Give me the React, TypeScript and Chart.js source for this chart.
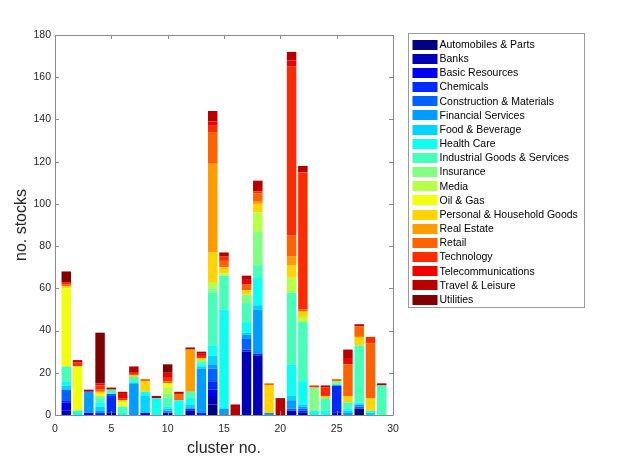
import React, { useEffect, useRef } from "react";
import { Chart, registerables } from "chart.js";

Chart.register(...registerables);

const clusters = [1, 2, 3, 4, 5, 6, 7, 8, 9, 10, 11, 12, 13, 14, 15, 16, 17, 18, 19, 20, 21, 22, 23, 24, 25, 26, 27, 28, 29];

const sectors = [
  "Automobiles & Parts",
  "Banks",
  "Basic Resources",
  "Chemicals",
  "Construction & Materials",
  "Financial Services",
  "Food & Beverage",
  "Health Care",
  "Industrial Goods & Services",
  "Insurance",
  "Media",
  "Oil & Gas",
  "Personal & Household Goods",
  "Real Estate",
  "Retail",
  "Technology",
  "Telecommunications",
  "Travel & Leisure",
  "Utilities",
];

const sectorColors = [
  "#000080", "#0000B8", "#0000F1", "#002BFF", "#0063FF", "#009CFF", "#00D4FF",
  "#0EFFF1", "#47FFB8", "#80FF80", "#B8FF47", "#F1FF0E", "#FFD400", "#FF9C00",
  "#FF6300", "#FF2B00", "#F10000", "#B80000", "#800000",
];

// stock counts per cluster (clusters 1..29)
const automobiles = [0, 0, 0, 0, 1, 0, 0, 0, 0, 0, 0, 0, 0, 5, 0, 0, 0, 0, 0, 0, 0, 0, 0, 0, 0, 0, 3, 0, 0];
const banks = [2, 0, 0, 0, 0, 0, 0, 0, 0, 1, 0, 2, 0, 4, 0, 0, 30, 28, 0, 0, 2, 1, 0, 0, 1, 0, 0, 0, 0];
const basicResources = [4, 0, 1, 0, 0, 0, 0, 1, 0, 0, 0, 0, 0, 3, 0, 0, 0, 0, 0, 0, 0, 0, 0, 0, 0, 0, 0, 0, 0];
const chemicals = [1, 0, 0, 1, 8, 0, 0, 0, 0, 0, 0, 1, 1, 4, 0, 0, 1, 1, 0, 0, 0, 1, 0, 0, 13, 0, 0, 0, 0];
const construction = [5, 0, 0, 0, 1, 0, 0, 0, 0, 0, 0, 0, 0, 6, 0, 0, 5, 0, 0, 0, 1, 1, 0, 0, 0, 0, 1, 0, 0];
const financial = [0, 0, 10, 1, 0, 0, 15, 0, 0, 1, 0, 0, 21, 2, 3, 0, 2, 21, 1, 0, 4, 1, 0, 0, 0, 1, 1, 0, 0];
const food = [2, 0, 0, 2, 0, 0, 0, 8, 0, 1, 0, 2, 1, 4, 0, 0, 1, 2, 0, 0, 2, 1, 0, 0, 0, 1, 0, 1, 0];
const health = [2, 2, 0, 2, 0, 1, 1, 2, 8, 1, 7, 3, 1, 5, 47, 0, 5, 13, 0, 0, 15, 11, 2, 2, 0, 1, 1, 1, 0];
const industrial = [7, 0, 0, 2, 2, 3, 2, 0, 0, 4, 0, 3, 1, 25, 16, 0, 9, 6, 0, 0, 34, 28, 0, 6, 1, 3, 27, 0, 14];
const insurance = [0, 0, 0, 1, 0, 0, 0, 0, 0, 2, 0, 0, 1, 2, 0, 0, 4, 16, 0, 0, 0, 0, 11, 0, 1, 0, 0, 0, 0];
const media = [0, 0, 0, 0, 0, 0, 0, 0, 0, 3, 0, 0, 0, 3, 1, 0, 0, 9, 0, 0, 7, 2, 0, 0, 0, 0, 0, 0, 0];
const oilGas = [37, 21, 0, 1, 0, 2, 0, 0, 0, 2, 0, 0, 0, 0, 0, 0, 0, 0, 0, 0, 0, 0, 0, 0, 0, 0, 0, 0, 0];
const personal = [1, 0, 0, 1, 0, 1, 1, 5, 0, 0, 0, 0, 1, 14, 3, 0, 2, 4, 13, 0, 6, 3, 0, 1, 0, 3, 4, 6, 0];
const realEstate = [0, 0, 0, 0, 0, 0, 0, 0, 0, 0, 0, 20, 0, 42, 0, 0, 0, 1, 0, 0, 4, 0, 0, 0, 0, 0, 0, 0, 0];
const retail = [1, 0, 0, 1, 0, 0, 0, 1, 0, 1, 3, 0, 0, 15, 3, 0, 3, 4, 1, 0, 10, 1, 0, 0, 1, 15, 5, 26, 0];
const technology = [1, 2, 0, 2, 0, 1, 1, 0, 0, 2, 0, 0, 1, 3, 2, 0, 0, 1, 0, 0, 80, 65, 1, 4, 0, 0, 0, 3, 0];
const telecom = [0, 0, 0, 1, 0, 2, 0, 0, 0, 2, 0, 0, 1, 2, 0, 0, 2, 0, 0, 0, 3, 0, 0, 0, 0, 3, 0, 0, 0];
const travel = [0, 1, 1, 0, 1, 1, 3, 0, 1, 0, 1, 1, 1, 5, 2, 5, 2, 5, 0, 8, 4, 3, 0, 1, 0, 4, 1, 0, 1];
const utilities = [5, 0, 0, 24, 0, 0, 0, 0, 0, 4, 0, 0, 0, 0, 0, 0, 0, 0, 0, 0, 0, 0, 0, 0, 0, 0, 0, 0, 0];

const sectorValues = [
  automobiles, banks, basicResources, chemicals, construction, financial, food,
  health, industrial, insurance, media, oilGas, personal, realEstate, retail,
  technology, telecom, travel, utilities,
];

const xTicks = [0, 5, 10, 15, 20, 25, 30];
const yTicks = [0, 20, 40, 60, 80, 100, 120, 140, 160, 180];

const FONT = "'Liberation Sans', Arial, Helvetica, sans-serif";
const AXIS_COLOR = "#8a8a8a";
const TEXT_COLOR = "#262626";

const boxPlugin = {
  id: "matlabBox",
  afterDatasetsDraw(chart: any) {
    const { ctx, chartArea, scales } = chart;
    const { left, right, top, bottom } = chartArea;
    ctx.save();
    ctx.strokeStyle = AXIS_COLOR;
    ctx.lineWidth = 1;
    ctx.beginPath();
    ctx.rect(Math.round(left) + 0.5, Math.round(top) + 0.5, Math.round(right - left), Math.round(bottom - top));
    ctx.stroke();
    const tl = 4;
    ctx.beginPath();
    xTicks.forEach((v) => {
      const px = Math.round(scales.x.getPixelForValue(v)) + 0.5;
      ctx.moveTo(px, bottom);
      ctx.lineTo(px, bottom - tl);
      ctx.moveTo(px, top);
      ctx.lineTo(px, top + tl);
    });
    yTicks.forEach((v) => {
      const py = Math.round(scales.y.getPixelForValue(v)) + 0.5;
      ctx.moveTo(left, py);
      ctx.lineTo(left + tl, py);
      ctx.moveTo(right, py);
      ctx.lineTo(right - tl, py);
    });
    ctx.stroke();
    ctx.restore();
  },
  afterDraw(chart: any) {
    const { ctx, chartArea } = chart;
    const x0 = Math.round(chartArea.right + 15) + 0.5;
    const y0 = Math.round(chartArea.top - 2) + 0.5;
    const rowH = 14.17;
    ctx.save();
    ctx.font = `10.5px ${FONT}`;
    let maxW = 0;
    chart.data.datasets.forEach((ds: any) => {
      maxW = Math.max(maxW, ctx.measureText(ds.label).width);
    });
    const w = Math.round(31 + maxW + 7);
    const h = Math.round(11 + rowH * (chart.data.datasets.length - 1) + 8);
    ctx.fillStyle = "#ffffff";
    ctx.fillRect(x0, y0, w, h);
    ctx.strokeStyle = "#9a9a9a";
    ctx.lineWidth = 1;
    ctx.strokeRect(x0, y0, w, h);
    ctx.textBaseline = "middle";
    ctx.textAlign = "left";
    chart.data.datasets.forEach((ds: any, i: number) => {
      const cy = y0 + 11 + i * rowH;
      ctx.fillStyle = ds.backgroundColor;
      ctx.fillRect(x0 + 4, Math.round(cy - 5), 25, 10);
      ctx.fillStyle = "#000000";
      ctx.fillText(ds.label, x0 + 31, cy + 0.5);
    });
    ctx.restore();
  },
};

export default function App() {
  const canvasRef = useRef<HTMLCanvasElement | null>(null);

  useEffect(() => {
    if (!canvasRef.current) return;
    const datasets = sectors.map((name, i) => ({
      label: name,
      data: clusters.map((c, j) => ({ x: c, y: sectorValues[i][j] })),
      backgroundColor: sectorColors[i],
      borderWidth: 0,
      barPercentage: 0.84,
      categoryPercentage: 1,
    }));
    const chart = new Chart(canvasRef.current, {
      type: "bar",
      data: { datasets },
      plugins: [boxPlugin],
      options: {
        animation: false,
        responsive: false,
        events: [],
        layout: { padding: { top: 35, right: 230, left: 0, bottom: 0 } },
        plugins: { legend: { display: false }, tooltip: { enabled: false } },
        scales: {
          x: {
            type: "linear",
            stacked: true,
            offset: false,
            min: 0,
            max: 30,
            afterFit: (scale: any) => {
              scale.height = 52;
            },
            afterBuildTicks: (scale: any) => {
              scale.ticks = xTicks.map((v) => ({ value: v }));
            },
            grid: { display: false, drawTicks: false },
            border: { display: false },
            ticks: {
              font: { family: FONT, size: 10.5 },
              color: TEXT_COLOR,
              padding: 8,
              maxRotation: 0,
            },
            title: {
              display: true,
              text: "cluster no.",
              font: { family: FONT, size: 16 },
              color: TEXT_COLOR,
              padding: { top: 0, bottom: 9 },
            },
          },
          y: {
            type: "linear",
            stacked: true,
            min: 0,
            max: 180,
            afterFit: (scale: any) => {
              scale.width = 55;
            },
            afterBuildTicks: (scale: any) => {
              scale.ticks = yTicks.map((v) => ({ value: v }));
            },
            grid: { display: false, drawTicks: false },
            border: { display: false },
            ticks: {
              font: { family: FONT, size: 10.5 },
              color: TEXT_COLOR,
              padding: 4,
            },
            title: {
              display: true,
              text: "no. stocks",
              font: { family: FONT, size: 16 },
              color: TEXT_COLOR,
              padding: { top: 12, bottom: 0 },
            },
          },
        },
      },
    } as any);
    return () => chart.destroy();
  }, []);

  return (
    <div style={{ position: "fixed", left: 0, top: 0, width: 623, height: 467, background: "#ffffff" }}>
      <canvas ref={canvasRef} width={623} height={467} style={{ width: 623, height: 467, display: "block" }} />
    </div>
  );
}
